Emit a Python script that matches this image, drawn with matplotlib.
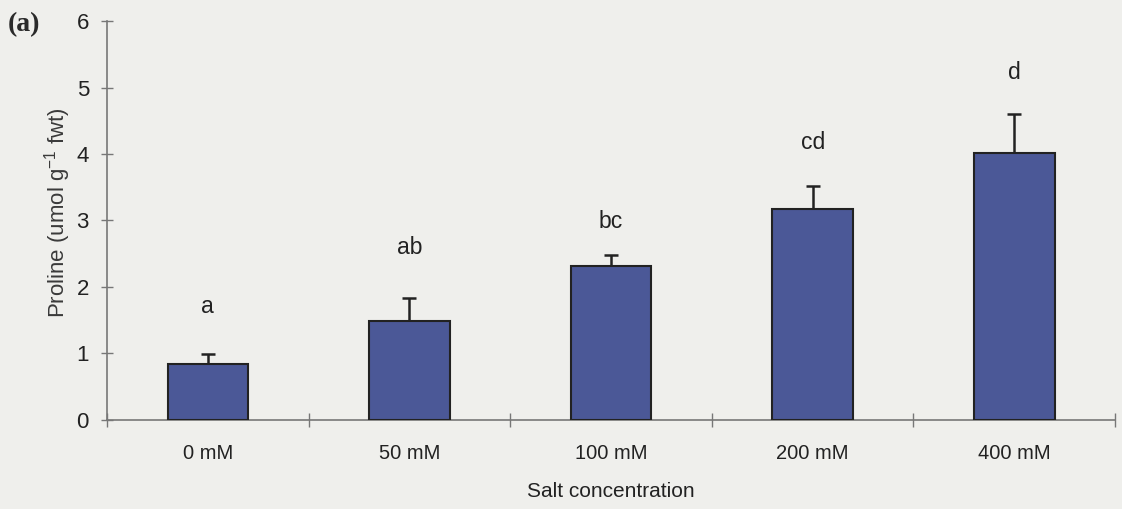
import matplotlib
matplotlib.use("Agg")
import matplotlib.pyplot as plt

# Datos
categorias = ["0 mM", "50 mM", "100 mM", "200 mM", "400 mM"]
prolina = [0.84, 1.49, 2.32, 3.17, 4.02]
error = [0.15, 0.34, 0.16, 0.35, 0.58]
letras = ["a", "ab", "bc", "cd", "d"]
pos_letras = [1.70, 2.59, 2.98, 4.17, 5.22]

plt.rcParams["font.family"] = ["Liberation Sans", "DejaVu Sans"]
plt.rcParams["mathtext.fontset"] = "custom"
plt.rcParams["mathtext.rm"] = "Liberation Sans"
plt.rcParams["mathtext.it"] = "Liberation Sans"

fondo = "#efefec"
fig = plt.figure(figsize=(11.22, 5.09), dpi=100, facecolor=fondo)
ax = fig.add_axes([0.0954, 0.1749, 0.8984, 0.7838])
ax.set_facecolor(fondo)

x = range(len(categorias))
ax.bar(x, prolina, width=0.4, color="#4b5897", edgecolor="#222222", linewidth=1.5, zorder=3)
ax.errorbar(x, prolina, yerr=[[0] * len(error), error], fmt="none",
            ecolor="#222222", elinewidth=1.8, capsize=5, capthick=1.8, zorder=2)

for xi, t, y in zip(x, letras, pos_letras):
    ax.text(xi, y, t, ha="center", va="center", fontsize=16.5, color="#222222")

ax.set_xlim(-0.5, 4.5)
ax.set_ylim(0, 6)
ax.set_yticks(range(7))
ax.set_xticks([i + 0.5 for i in range(-1, 5)], minor=False)
ax.set_xticklabels([])
ax.set_xticks(list(x), minor=True)
ax.set_xticklabels(categorias, minor=True)
ax.tick_params(axis="x", which="major", direction="inout", length=10, width=1, color="#777777")
ax.tick_params(axis="x", which="minor", length=0, labelsize=14.5, pad=17, labelcolor="#222222")
ax.tick_params(axis="y", direction="inout", length=8, width=1, color="#777777",
               labelsize=16, pad=9, labelcolor="#222222")

for s in ["top", "right"]:
    ax.spines[s].set_visible(False)
for s in ["left", "bottom"]:
    ax.spines[s].set_color("#777777")
    ax.spines[s].set_linewidth(1.2)

ax.set_xlabel("Salt concentration", fontsize=15, color="#222222", labelpad=14)
ax.set_ylabel(r"Proline (umol g$^{-1}$ fwt)", fontsize=16, color="#3a3a3a", labelpad=3)
ax.yaxis.set_label_coords(-0.034, 0.52)

fig.text(0.007, 0.952, "(a)", fontsize=20, fontweight="bold", family="Liberation Serif",
         color="#2a2a2a", va="center", ha="left")

fig.savefig("out.png", dpi=100, facecolor=fondo)
